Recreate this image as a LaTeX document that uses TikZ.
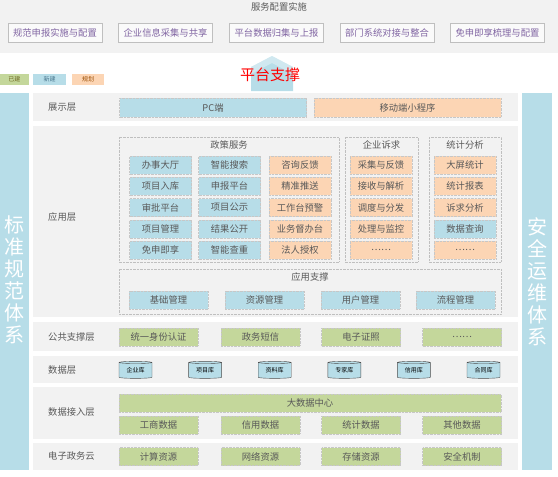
\documentclass[tikz,border=0pt]{standalone}
\usepackage{fontspec}
\setmainfont{Noto Sans CJK SC}
\usepackage{xcolor}
\usepackage{tikz}
\usetikzlibrary{shapes.geometric}

\definecolor{bfill}{HTML}{B7DDE8}
\definecolor{ofill}{HTML}{FCD5B4}
\definecolor{gfill}{HTML}{C4D79B}
\definecolor{rowbg}{HTML}{F2F2F2}
\definecolor{txtgray}{HTML}{595959}
\definecolor{btntxt}{HTML}{8064A2}

\tikzset{
  cell/.style={draw=black!22, densely dotted, minimum width=62pt, minimum height=18pt,
    inner sep=0pt, text=txtgray, font=\fontsize{9.3}{9.3}\selectfont},
  bcell/.style={cell, fill=bfill},
  ocell/.style={cell, fill=ofill},
  gcell/.style={cell, fill=gfill},
  wcell/.style={cell, minimum width=79pt},
  topbtn/.style={draw=black!25, fill=white!60!rowbg, minimum width=94pt, minimum height=19pt,
    inner sep=0pt, text=btntxt, font=\fontsize{9.3}{9.3}\selectfont},
  legend/.style={minimum height=11pt, inner sep=0pt, font=\fontsize{6}{6}\selectfont},
  group/.style={draw=black!25, densely dotted},
  rowlabel/.style={anchor=west, inner sep=0pt, text=txtgray, font=\fontsize{9.3}{9.3}\selectfont},
  sidebar/.style={fill=bfill},
  sidetext/.style={text=white, align=center, inner sep=0pt, font=\fontsize{20}{22}\selectfont},
  dbase/.style={cylinder, shape border rotate=90, aspect=0.12, draw=black!70, fill=bfill,
    minimum width=33pt, minimum height=17pt, inner sep=0pt, font=\fontsize{6}{6}\selectfont}
}

\begin{document}
\begin{tikzpicture}[x=1pt,y=-1pt]
  \useasboundingbox (0,0) rectangle (558,477);
  % service band
  \fill[rowbg] (0,0) rectangle (558,53);
  \node[text=txtgray, font=\fontsize{9.3}{9.3}\selectfont] (title) at (279,7) {服务配置实施};
  \foreach \txt/\cx [count=\i] in {规范申报实施与配置/55,企业信息采集与共享/165.5,平台数据归集与上报/276.5,
      部门系统对接与整合/387,免申即享梳理与配置/497.5}
    \node[topbtn] (btn\i) at (\cx,32.5) {\txt};

  % legend
  \node[legend, fill=gfill, minimum width=29pt, text=olive!70!black] (lg1) at (14.5,79.5) {已建};
  \node[legend, fill=bfill, minimum width=33pt, text=cyan!50!black] (lg2) at (49.5,79.5) {新建};
  \node[legend, fill=ofill, minimum width=32pt, text=orange!60!black] (lg3) at (88,79.5) {规划};

  % platform support mark
  \fill[bfill] (251,67) -- (272,56) -- (293,67) -- (293,91) -- (251,91) -- cycle;
  \fill[white, opacity=0.35] (251,67) -- (272,56) -- (293,67) -- (293,74) -- (272,63) -- (251,74) -- cycle;
  \node[text=red, font=\fontsize{15}{15}\selectfont] (pt) at (270,75) {平台支撑};

  % side bars
  \fill[sidebar] (0,93) rectangle (29,470);
  \fill[sidebar] (522,93) rectangle (552,470);
  \node[sidetext] (std) at (15,280) {标\\准\\规\\范\\体\\系};
  \node[sidetext] (sec) at (537,282) {安\\全\\运\\维\\体\\系};

  % layer rows
  \fill[rowbg] (33,93) rectangle (518,121);
  \fill[rowbg] (33,126) rectangle (518,317);
  \fill[rowbg] (33,322) rectangle (518,351);
  \fill[rowbg] (33,356) rectangle (518,383);
  \fill[rowbg] (33,387) rectangle (518,439);
  \fill[rowbg] (33,443) rectangle (518,470);
  \node[rowlabel] (l1) at (48,107) {展示层};
  \node[rowlabel] (l2) at (48,217) {应用层};
  \node[rowlabel] (l3) at (48,337) {公共支撑层};
  \node[rowlabel] (l4) at (48,370) {数据层};
  \node[rowlabel] (l5) at (48,412) {数据接入层};
  \node[rowlabel] (l6) at (48,456) {电子政务云};

  % display layer
  \node[bcell, minimum width=187pt, minimum height=19pt] (pc) at (213,107.5) {PC端};
  \node[ocell, minimum width=187pt, minimum height=19pt] (mob) at (407.5,107.5) {移动端小程序};

  % application layer groups
  \draw[group] (119,137) rectangle (339,262);
  \draw[group] (345,137) rectangle (418,262);
  \draw[group] (429,137) rectangle (501,262);
  \draw[group] (119,269) rectangle (501,314);
  \node[text=txtgray, font=\fontsize{9.3}{9.3}\selectfont] (g1) at (229,145) {政策服务};
  \node[text=txtgray, font=\fontsize{9.3}{9.3}\selectfont] (g2) at (381.5,145) {企业诉求};
  \node[text=txtgray, font=\fontsize{9.3}{9.3}\selectfont] (g3) at (465,145) {统计分析};
  \node[text=txtgray, font=\fontsize{9.3}{9.3}\selectfont] (g4) at (310,277) {应用支撑};

  \foreach \txt [count=\i from 0] in {办事大厅,项目入库,审批平台,项目管理,免申即享}
    \node[bcell] (zc1\i) at (160.5,{165+21.25*\i}) {\txt};
  \foreach \txt [count=\i from 0] in {智能搜索,申报平台,项目公示,结果公开,智能查重}
    \node[bcell] (zc2\i) at (229.5,{165+21.25*\i}) {\txt};
  \foreach \txt [count=\i from 0] in {咨询反馈,精准推送,工作台预警,业务督办台,法人授权}
    \node[ocell] (zc3\i) at (300,{165+21.25*\i}) {\txt};
  \foreach \txt [count=\i from 0] in {采集与反馈,接收与解析,调度与分发,处理与监控,……}
    \node[ocell] (qs\i) at (381,{165+21.25*\i}) {\txt};
  \foreach \txt/\sty [count=\i from 0] in {大屏统计/ocell,统计报表/ocell,诉求分析/ocell,数据查询/bcell,……/ocell}
    \node[\sty] (tj\i) at (465,{165+21.25*\i}) {\txt};
  \foreach \txt/\cx [count=\i] in {基础管理/168.5,资源管理/264.5,用户管理/360.5,流程管理/455.5}
    \node[bcell, wcell] (zc\i) at (\cx,300) {\txt};

  % public support layer
  \foreach \txt/\cx [count=\i] in {统一身份认证/158.5,政务短信/260.5,电子证照/361,……/462}
    \node[gcell, wcell] (gg\i) at (\cx,337) {\txt};

  % data layer
  \foreach \txt [count=\i from 0] in {企业库,项目库,资料库,专家库,信用库,合同库}
    \node[dbase] (db\i) at ({135.5+69.6*\i},370.5) {\txt};

  % data access layer
  \node[gcell, minimum width=382pt] (bd) at (310,403) {大数据中心};
  \foreach \txt/\cx [count=\i] in {工商数据/158.5,信用数据/260.5,统计数据/361,其他数据/462}
    \node[gcell, wcell] (jr\i) at (\cx,425) {\txt};

  % e-gov cloud
  \foreach \txt/\cx [count=\i] in {计算资源/158.5,网络资源/260.5,存储资源/361,安全机制/462}
    \node[gcell, wcell] (yun\i) at (\cx,456.5) {\txt};
\end{tikzpicture}
\end{document}
